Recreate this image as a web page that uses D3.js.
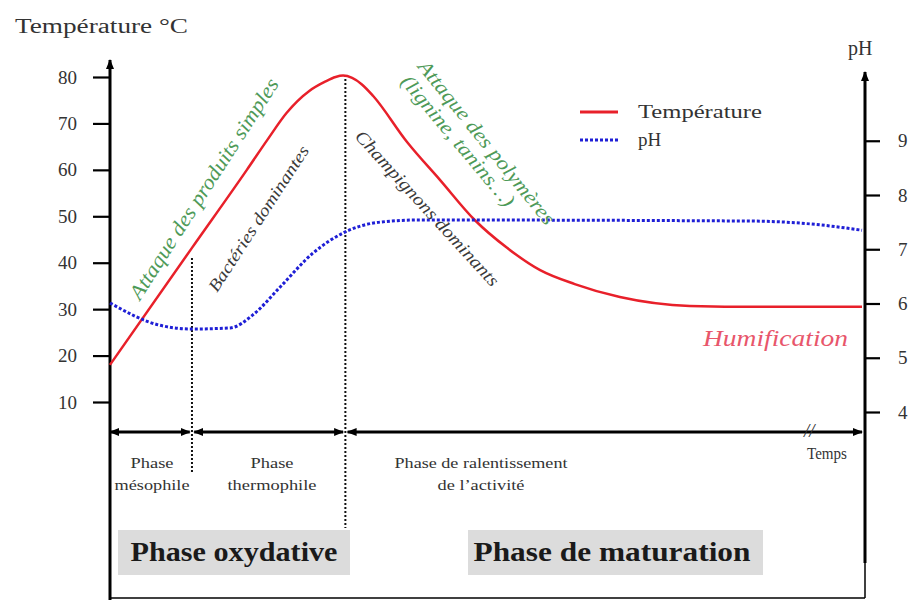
<!DOCTYPE html>
<html>
<head>
<meta charset="utf-8">
<script src="https://cdn.jsdelivr.net/npm/d3@7"></script>
<style>
  body { margin: 0; background: #fff; }
  svg text { font-family: "Liberation Serif", "Times New Roman", serif; }
</style>
</head>
<body>
<svg id="chart" width="912" height="600"></svg>
<script>
// time is in arbitrary units (0 = start, 100 = end of the axis)
const tempTime = [0, 10.9, 18.2, 20.9, 23.5, 26.5, 28.6, 30.0, 31.0, 32.2, 33.5, 35.0, 39.5, 43.9, 48.5, 52.8, 57.2, 61.8, 67.8, 77.1, 86.4, 100];
const tempValues = [18, 43.2, 60.0, 66.4, 72.3, 77.0, 79.0, 80.0, 80.3, 79.8, 78.4, 75.9, 66.0, 57.8, 49.2, 43.2, 38.4, 35.4, 32.6, 30.7, 30.5, 30.5];

const phTime = [0, 6.6, 10.9, 16.0, 19.0, 22.6, 27.0, 31.3, 35.9, 41.2, 85.1, 94.4, 100];
const phValues = [6.01, 5.6, 5.53, 5.55, 5.79, 6.3, 6.93, 7.32, 7.5, 7.54, 7.52, 7.45, 7.35];

const tempTicks = [10, 20, 30, 40, 50, 60, 70, 80];
const phTicks = [4, 5, 6, 7, 8, 9];

// phase boundaries on the time axis
const phaseBounds = [0, 10.9, 31.3, 100];
const phaseNames = [["Phase", "mésophile"], ["Phase", "thermophile"], ["Phase de ralentissement", "de l\u2019activité"]];

const svg = d3.select("#chart");

const x = d3.scaleLinear().domain([0, 100]).range([110, 862]);
const yT = d3.scaleLinear().domain([10, 80]).range([402, 77]);
const yPH = d3.scaleLinear().domain([4, 8]).range([412, 195]);

// arrow marker
const defs = svg.append("defs");
defs.append("marker")
  .attr("id", "arrow")
  .attr("viewBox", "0 -5 10 10")
  .attr("markerUnits", "userSpaceOnUse")
  .attr("markerWidth", 10)
  .attr("markerHeight", 10)
  .attr("refX", 9)
  .attr("orient", "auto-start-reverse")
  .append("path")
  .attr("d", "M0,-4L10,0L0,4Z")
  .attr("fill", "#000");

function addText(px, py, str, o) {
  const t = svg.append("text")
    .attr("x", px).attr("y", py)
    .attr("font-size", o.size || 16)
    .attr("fill", o.color || "#222")
    .attr("text-anchor", o.anchor || "start")
    .text(str);
  if (o.italic) t.attr("font-style", "italic");
  if (o.bold) t.attr("font-weight", "bold");
  if (o.len) t.attr("textLength", o.len).attr("lengthAdjust", "spacingAndGlyphs");
  if (o.rotate) t.attr("transform", `rotate(${o.rotate},${px},${py})`);
  return t;
}

// gray boxes
svg.append("rect").attr("x", 118).attr("y", 530).attr("width", 232).attr("height", 45).attr("fill", "#dcdcdc");
svg.append("rect").attr("x", 468).attr("y", 530).attr("width", 295).attr("height", 45).attr("fill", "#dcdcdc");
addText(234, 561, "Phase oxydative", { size: 27, bold: true, anchor: "middle", color: "#1a1a1a", len: 207 });
addText(612, 561, "Phase de maturation", { size: 27, bold: true, anchor: "middle", color: "#1a1a1a", len: 277 });

// frame / axes lines
svg.append("line").attr("x1", 110).attr("x2", 110).attr("y1", 600).attr("y2", 60)
  .attr("stroke", "#000").attr("stroke-width", 3).attr("marker-end", "url(#arrow)");
svg.append("line").attr("x1", 865).attr("x2", 865).attr("y1", 563).attr("y2", 72)
  .attr("stroke", "#000").attr("stroke-width", 3).attr("marker-end", "url(#arrow)");
svg.append("line").attr("x1", 865).attr("x2", 865).attr("y1", 563).attr("y2", 598)
  .attr("stroke", "#000").attr("stroke-width", 1.5);
svg.append("line").attr("x1", 110).attr("x2", 865).attr("y1", 598).attr("y2", 598)
  .attr("stroke", "#000").attr("stroke-width", 1.5);

// left axis (temperature)
const gL = svg.append("g").attr("transform", "translate(110,0)")
  .call(d3.axisLeft(yT).tickValues(tempTicks).tickFormat(d3.format("d")).tickSize(17).tickPadding(16));
gL.select(".domain").remove();
gL.selectAll("line").attr("stroke-width", 2.2);
gL.selectAll("text").attr("font-size", 19).attr("fill", "#333")
  .style("font-family", "Liberation Serif, serif");

// right axis (pH)
const gR = svg.append("g").attr("transform", "translate(865,0)")
  .call(d3.axisRight(yPH).tickValues(phTicks).tickFormat(d3.format("d")).tickSize(15).tickPadding(18));
gR.select(".domain").remove();
gR.selectAll("line").attr("stroke-width", 2.2);
gR.selectAll("text").attr("font-size", 19).attr("fill", "#333")
  .style("font-family", "Liberation Serif, serif");

// axis titles
addText(15, 33, "Température °C", { size: 20, color: "#333", len: 173 });
addText(848, 55, "pH", { size: 20, color: "#333" });

// time axis with phase arrows
for (let i = 0; i < 3; i++) {
  svg.append("line")
    .attr("x1", x(phaseBounds[i] + (i ? 0.3 : 0)))
    .attr("x2", x(phaseBounds[i + 1] - (i < 2 ? 0.3 : 0)))
    .attr("y1", 432).attr("y2", 432)
    .attr("stroke", "#000").attr("stroke-width", 3)
    .attr("marker-start", "url(#arrow)")
    .attr("marker-end", "url(#arrow)");
}
addText(804, 437, "//", { size: 19, italic: true, color: "#333" });
addText(827, 459, "Temps", { size: 17, anchor: "middle", color: "#333", len: 40 });

// phase labels
const phaseCenters = [152, 272, 481];
const phaseLens = [[43, 75], [43, 89], [173, 87]];
phaseNames.forEach((lines, i) => {
  addText(phaseCenters[i], 468, lines[0], { size: 15, anchor: "middle", color: "#333", len: phaseLens[i][0] });
  addText(phaseCenters[i], 490, lines[1], { size: 15, anchor: "middle", color: "#333", len: phaseLens[i][1] });
});

// dotted phase separators
svg.append("line").attr("x1", x(phaseBounds[1])).attr("x2", x(phaseBounds[1]))
  .attr("y1", 258).attr("y2", 472)
  .attr("stroke", "#111").attr("stroke-width", 2).attr("stroke-dasharray", "2,2");
svg.append("line").attr("x1", x(phaseBounds[2])).attr("x2", x(phaseBounds[2]))
  .attr("y1", 75).attr("y2", 528)
  .attr("stroke", "#111").attr("stroke-width", 2).attr("stroke-dasharray", "2,2");

// curves
const tempLine = d3.line()
  .x((d, i) => x(tempTime[i]))
  .y(d => yT(d))
  .curve(d3.curveMonotoneX);
svg.append("path").datum(tempValues)
  .attr("d", tempLine)
  .attr("fill", "none").attr("stroke", "#e8202a").attr("stroke-width", 2.5);

const phLine = d3.line()
  .x((d, i) => x(phTime[i]))
  .y(d => yPH(d))
  .curve(d3.curveMonotoneX);
svg.append("path").datum(phValues)
  .attr("d", phLine)
  .attr("fill", "none").attr("stroke", "#1f1fd6").attr("stroke-width", 3)
  .attr("stroke-dasharray", "3,2");

// legend
svg.append("line").attr("x1", 580).attr("x2", 618).attr("y1", 112).attr("y2", 112)
  .attr("stroke", "#e8202a").attr("stroke-width", 3);
svg.append("line").attr("x1", 580).attr("x2", 618).attr("y1", 140).attr("y2", 140)
  .attr("stroke", "#1f1fd6").attr("stroke-width", 3).attr("stroke-dasharray", "3,2");
addText(638, 118, "Température", { size: 19, color: "#333", len: 124 });
addText(638, 146, "pH", { size: 19, color: "#333" });

// annotations
addText(140, 301, "Attaque des produits simples", { size: 21, italic: true, color: "#4e9a58", rotate: -57.3, len: 258 });
addText(217, 293, "Bactéries dominantes", { size: 17, italic: true, color: "#3a3a3a", rotate: -57, len: 170 });
addText(354, 137, "Champignons dominants", { size: 18, italic: true, color: "#3a3a3a", rotate: 47.6, len: 204 });
addText(417, 67, "Attaque des polymères", { size: 20, italic: true, color: "#4e9a58", rotate: 51, len: 205 });
addText(400, 82, "(lignine, tanins\u2026)", { size: 20, italic: true, color: "#4e9a58", rotate: 50, len: 165 });
addText(848, 346, "Humification", { size: 24, italic: true, color: "#e8566b", anchor: "end", len: 145 });
</script>
</body>
</html>
